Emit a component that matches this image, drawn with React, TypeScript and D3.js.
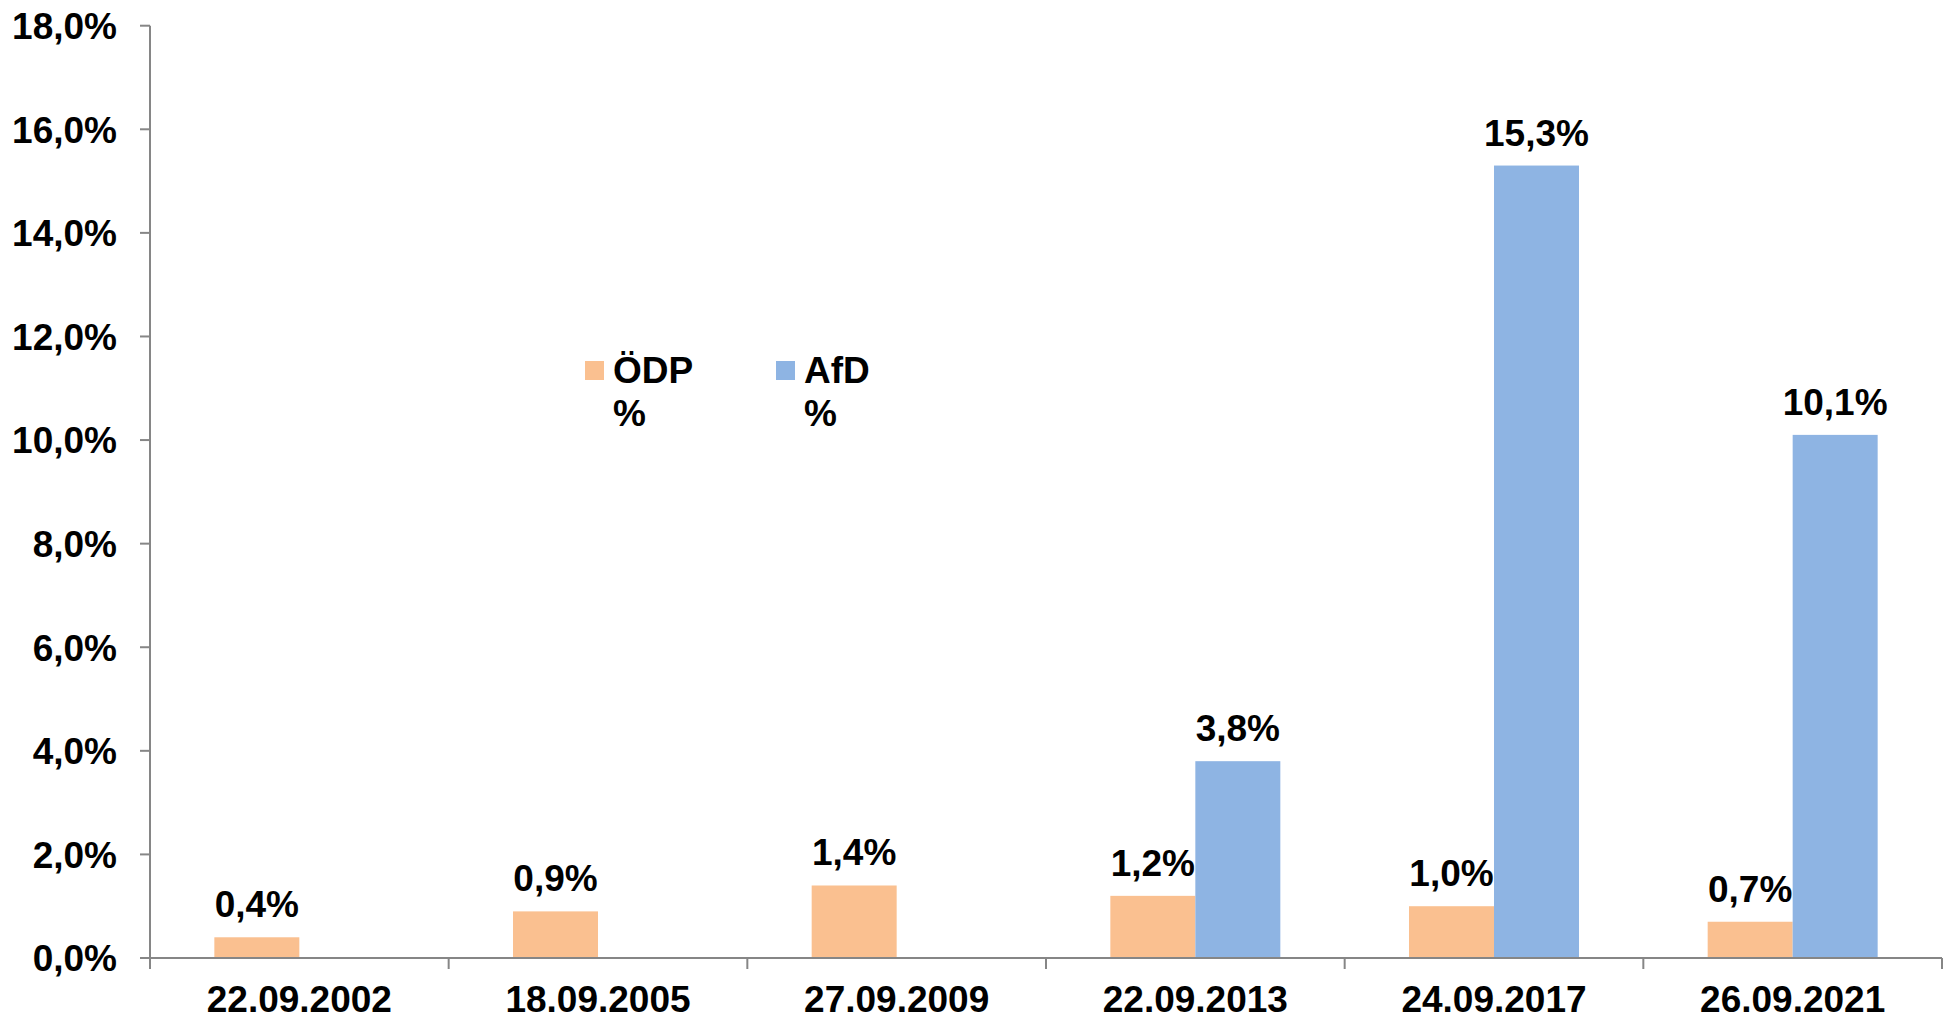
import { useMemo } from "react";
import * as d3 from "d3";

const categories = ["22.09.2002", "18.09.2005", "27.09.2009", "22.09.2013", "24.09.2017", "26.09.2021"];
const seriesNames = ["ÖDP", "AfD"];
const odpValues = [0.4, 0.9, 1.4, 1.2, 1.0, 0.7];
const afdValues = [null, null, null, 3.8, 15.3, 10.1];
const yTickValues = [0, 2, 4, 6, 8, 10, 12, 14, 16, 18];
const colors = ["#FAC090", "#8EB4E3"];

const fmt = (v: number) => d3.format(".1f")(v).replace(".", ",") + "%";
const FONT = "'Liberation Sans', Arial, sans-serif";

export default function App() {
    const width = 1947;
    const height = 1021;
    const left = 150;
    const right = 1942;
    const top = 25.7;
    const bottom = 958;

    const xScale = useMemo(() => d3.scaleBand().domain(categories).range([left, right]).padding(0), []);
    const inner = useMemo(
        () => d3.scaleBand().domain(seriesNames).range([0, xScale.bandwidth()]).paddingInner(0).paddingOuter(0.757),
        [xScale]
    );
    const yScale = useMemo(() => d3.scaleLinear().domain([0, 18]).range([bottom, top]), []);

    const series = [odpValues, afdValues];
    const axisColor = "#868686";

    return (
        <svg width={width} height={height} style={{ position: "absolute", left: 0, top: 0 }} fontFamily={FONT}>
            <rect width={width} height={height} fill="white" />

            {/* bars */}
            {series.map((vals, si) =>
                vals.map((v, i) =>
                    v == null ? null : (
                        <rect
                            key={`b-${si}-${i}`}
                            x={(xScale(categories[i]) ?? 0) + (inner(seriesNames[si]) ?? 0)}
                            y={yScale(v)}
                            width={inner.bandwidth()}
                            height={yScale(0) - yScale(v)}
                            fill={colors[si]}
                        />
                    )
                )
            )}

            {/* value labels */}
            {series.map((vals, si) =>
                vals.map((v, i) =>
                    v == null ? null : (
                        <text
                            key={`l-${si}-${i}`}
                            x={(xScale(categories[i]) ?? 0) + (inner(seriesNames[si]) ?? 0) + inner.bandwidth() / 2}
                            y={yScale(v) - 20}
                            textAnchor="middle"
                            fontSize="37"
                            fontWeight="bold"
                            fill="#000"
                        >
                            {fmt(v)}
                        </text>
                    )
                )
            )}

            {/* y axis */}
            <line x1={left} y1={top} x2={left} y2={bottom + 11} stroke={axisColor} strokeWidth="2" />
            {yTickValues.map((t) => (
                <g key={`y-${t}`} transform={`translate(0, ${yScale(t)})`}>
                    <line x1={left - 10} x2={left} stroke={axisColor} strokeWidth="2" />
                    <text x={117} dy="0.36em" textAnchor="end" fontSize="37" fontWeight="bold" fill="#000">
                        {fmt(t)}
                    </text>
                </g>
            ))}

            {/* x axis */}
            <line x1={left - 10} y1={bottom} x2={right} y2={bottom} stroke={axisColor} strokeWidth="2" />
            {categories.map((c) => (
                <line
                    key={`xt-${c}`}
                    x1={(xScale(c) ?? 0) + xScale.bandwidth()}
                    x2={(xScale(c) ?? 0) + xScale.bandwidth()}
                    y1={bottom}
                    y2={bottom + 11}
                    stroke={axisColor}
                    strokeWidth="2"
                />
            ))}
            {categories.map((c) => (
                <text
                    key={`xl-${c}`}
                    x={(xScale(c) ?? 0) + xScale.bandwidth() / 2}
                    y={bottom + 54}
                    textAnchor="middle"
                    fontSize="37"
                    fontWeight="bold"
                    fill="#000"
                >
                    {c}
                </text>
            ))}

            {/* legend */}
            {seriesNames.map((name, si) => (
                <g key={`lg-${name}`} transform={`translate(${585 + si * 191}, 361)`}>
                    <rect width="19" height="19" fill={colors[si]} />
                    <text x="28" y="22" fontSize="37" fontWeight="bold" fill="#000">{name}</text>
                    <text x="28" y="65" fontSize="37" fontWeight="bold" fill="#000">%</text>
                </g>
            ))}
        </svg>
    );
}
